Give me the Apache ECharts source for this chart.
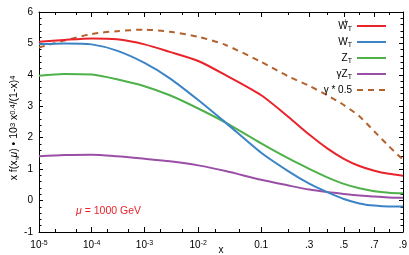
<!DOCTYPE html>
<html>
<head>
<meta charset="utf-8">
<script src="https://cdn.jsdelivr.net/npm/echarts@6/dist/echarts.min.js"></script>
<style>
html,body{margin:0;padding:0;background:#fff;}
#c{width:409px;height:255px;}
</style>
</head>
<body>
<div id="c"></div>
<script>
// x sample points (momentum fraction)
const xGrid = [1e-5, 3e-5, 1e-4, 3e-4, 1e-3, 3e-3, 0.01, 0.03, 0.1, 0.2, 0.3, 0.4, 0.5, 0.6, 0.7, 0.8, 0.9];
// series values
const wPlus   = [5.05, 5.11, 5.16, 5.13, 4.97, 4.73, 4.44, 3.99, 3.35, 2.66, 2.10, 1.66, 1.33, 1.10, 0.95, 0.85, 0.79];
const wMinus  = [4.97, 5.00, 4.97, 4.77, 4.38, 3.89, 3.20, 2.48, 1.52, 0.93, 0.54, 0.27, 0.05, -0.09, -0.16, -0.19, -0.19];
const zT      = [3.97, 4.03, 4.01, 3.86, 3.64, 3.35, 2.93, 2.48, 1.82, 1.34, 1.01, 0.74, 0.53, 0.39, 0.30, 0.25, 0.23];
const gammaZ  = [1.41, 1.45, 1.46, 1.41, 1.33, 1.25, 1.12, 0.94, 0.66, 0.48, 0.35, 0.27, 0.21, 0.16, 0.13, 0.10, 0.09];
const gammaHalf = [4.87, 5.09, 5.30, 5.39, 5.44, 5.37, 5.21, 4.95, 4.41, 3.95, 3.65, 3.35, 3.04, 2.68, 2.20, 1.73, 1.30];
const seriesNames = ['W+', 'W-', 'Z', 'gZ', 'g05'];
const legendLabels = ['W{sp|+}{sb|T}', 'W{sp|-}{sb|T}', 'Z{sb|T}', 'γZ{sb|T}', 'γ * 0.5'];
// tick labels
const xTickValues = [1e-5, 1e-4, 1e-3, 1e-2, 0.1, 0.3, 0.5, 0.7, 0.9];
const xTickLabels = ['10{s|-5}', '10{s|-4}', '10{s|-3}', '10{s|-2}', '0.1', '.3', '.5', '.7', '.9'];
const xMinorValues = [2e-5, 5e-5, 2e-4, 5e-4, 2e-3, 5e-3, 0.02, 0.05, 0.2, 0.4, 0.6, 0.8];

// axis scale: ln(x) + 5x
const T = x => Math.log(x) + 5 * x;
const xMin = T(1e-5), xMax = T(0.9);
const majorsT = xTickValues.map(T);
const minorsT = xMinorValues.map(T);

const colors = ['#e8232a', '#3c84c6', '#4fb14a', '#9a4fa6', '#b3622e'];
const allData = [wPlus, wMinus, zT, gammaZ, gammaHalf];

const chart = echarts.init(document.getElementById('c'), null, {renderer: 'canvas'});
const FONT = 'Liberation Sans';

function xLabel(v) {
  let best = 0, bd = Infinity;
  majorsT.forEach((t, i) => { const d = Math.abs(t - v); if (d < bd) { bd = d; best = i; } });
  return xTickLabels[best];
}

const baseX = {
  min: xMin, max: xMax, type: 'value', splitLine: {show: false}
};
const gridBox = {left: 39, right: 6, top: 12, bottom: 23, containLabel: false, outerBoundsMode: 'none'};

const option = {
  animation: false,
  textStyle: {fontFamily: FONT},
  grid: [Object.assign({}, gridBox), Object.assign({}, gridBox)],
  xAxis: [
    Object.assign({}, baseX, {
      gridIndex: 0, position: 'bottom',
      axisLine: {show: true, onZero: false, lineStyle: {color: '#000', width: 1}},
      axisTick: {show: true, inside: true, length: 5, customValues: majorsT, lineStyle: {color: '#000'}},
      axisLabel: {
        show: true, customValues: majorsT, margin: 8, color: '#000', fontSize: 10, fontFamily: FONT,
        formatter: xLabel,
        rich: {s: {fontSize: 7, verticalAlign: 'top', fontFamily: FONT, color: '#000'}}
      },
      name: 'x', nameLocation: 'middle', nameGap: 13, nameMoveOverlap: false,
      nameTextStyle: {fontSize: 10, color: '#000', fontFamily: FONT}
    }),
    Object.assign({}, baseX, {
      gridIndex: 0, position: 'top',
      axisLine: {show: true, onZero: false, lineStyle: {color: '#000', width: 1}},
      axisTick: {show: true, inside: true, length: 5, customValues: majorsT, lineStyle: {color: '#000'}},
      axisLabel: {show: false}
    }),
    Object.assign({}, baseX, {
      gridIndex: 1, position: 'bottom',
      axisLine: {show: false, onZero: false},
      axisTick: {show: true, inside: true, length: 3, customValues: minorsT, lineStyle: {color: '#000'}},
      axisLabel: {show: false}
    }),
    Object.assign({}, baseX, {
      gridIndex: 1, position: 'top',
      axisLine: {show: false, onZero: false},
      axisTick: {show: true, inside: true, length: 3, customValues: minorsT, lineStyle: {color: '#000'}},
      axisLabel: {show: false}
    })
  ],
  yAxis: [
    {
      gridIndex: 0, type: 'value', min: -1, max: 6, interval: 1, position: 'left',
      splitLine: {show: false},
      axisLine: {show: true, onZero: false, lineStyle: {color: '#000', width: 1}},
      axisTick: {show: true, inside: true, length: 4, lineStyle: {color: '#000'}},
      minorTick: {show: true, splitNumber: 5, length: 2.5, lineStyle: {color: '#000'}},
      axisLabel: {color: '#000', fontSize: 10, margin: 6, fontFamily: FONT},
      name: 'x f(x,{i|μ}) • 10{s|3} x{s|0.4}/(1-x){s|4}',
      nameLocation: 'middle', nameRotate: 90, nameGap: 19, nameMoveOverlap: false,
      nameTextStyle: {
        fontSize: 10.5, color: '#000', fontFamily: FONT, padding: [0, 12, 0, 0],
        rich: {
          s: {fontSize: 7.5, verticalAlign: 'top', fontFamily: FONT, color: '#000'},
          i: {fontSize: 10.5, fontStyle: 'italic', fontFamily: FONT, color: '#000'}
        }
      }
    },
    {
      gridIndex: 0, type: 'value', min: -1, max: 6, interval: 1, position: 'right',
      splitLine: {show: false},
      axisLine: {show: true, onZero: false, lineStyle: {color: '#000', width: 1}},
      axisTick: {show: true, inside: true, length: 4, lineStyle: {color: '#000'}},
      minorTick: {show: true, splitNumber: 5, length: 2.5, lineStyle: {color: '#000'}},
      axisLabel: {show: false}
    },
    {
      gridIndex: 1, type: 'value', min: -1, max: 6, show: false
    }
  ],
  legend: {
    orient: 'vertical', right: 17, top: 14, align: 'right',
    itemWidth: 29, itemHeight: 10, itemGap: 2,
    data: seriesNames,
    formatter: name => legendLabels[seriesNames.indexOf(name)],
    itemStyle: {opacity: 0, borderWidth: 0},
    textStyle: {
      fontSize: 10, color: '#000', fontFamily: FONT, lineHeight: 14,
      rich: {
        sp: {fontSize: 7, verticalAlign: 'top', width: 0, lineHeight: 14, fontFamily: FONT, color: '#000'},
        sb: {fontSize: 7, verticalAlign: 'bottom', lineHeight: 14, fontFamily: FONT, color: '#000'}
      }
    }
  },
  graphic: [
    {
      type: 'text', left: 76, top: 206,
      style: {
        text: '{i|μ} = 1000 GeV', fill: '#e8232a', fontSize: 10.5, fontFamily: FONT,
        rich: {i: {fontStyle: 'italic', fontSize: 10.5, fill: '#e8232a', fontFamily: FONT}}
      }
    }
  ],
  series: allData.map((arr, k) => ({
    name: seriesNames[k],
    type: 'line',
    xAxisIndex: 0, yAxisIndex: 0,
    data: xGrid.map((x, i) => [T(x), arr[i]]),
    smooth: 0.25,
    symbol: 'none',
    lineStyle: {color: colors[k], width: 2, type: k === 4 ? [6, 5] : 'solid'},
    itemStyle: {color: colors[k]},
    z: 5 - k
  }))
};
chart.setOption(option);
</script>
</body>
</html>
